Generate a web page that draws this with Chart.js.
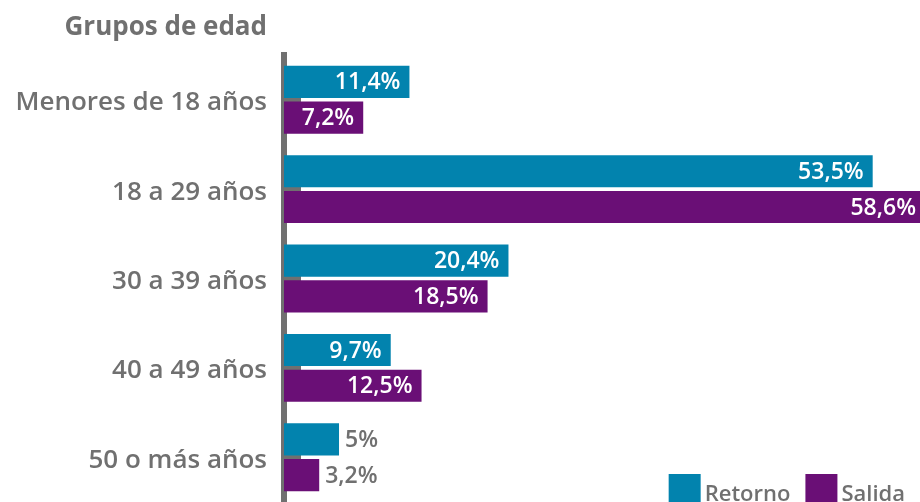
<!DOCTYPE html>
<html>
<head>
<meta charset="utf-8">
<script src="https://cdn.jsdelivr.net/npm/chart.js@4"></script>
<style>
  body { margin: 0; background: #fff; }
  #caja { width: 920px; height: 502px; }
</style>
</head>
<body>
<div id="caja"><canvas id="grafica"></canvas></div>
<script>
const grupos = ["Menores de 18 años", "18 a 29 años", "30 a 39 años", "40 a 49 años", "50 o más años"];
const retorno = [11.4, 53.5, 20.4, 9.7, 5];
const salida = [7.2, 58.6, 18.5, 12.5, 3.2];
const etiquetasRetorno = ["11,4%", "53,5%", "20,4%", "9,7%", "5%"];
const etiquetasSalida = ["7,2%", "58,6%", "18,5%", "12,5%", "3,2%"];
const tituloEje = "Grupos de edad";

const gris = "#707070";
const fuente = "'Open Sans', sans-serif";

// marcas cortas del eje, hacia dentro
const marcas = {
    id: "marcas",
    beforeDatasetsDraw(chart) {
        const ctx = chart.ctx;
        const y = chart.scales.y;
        const x0 = chart.chartArea.left;
        ctx.save();
        ctx.fillStyle = gris;
        grupos.forEach((g, i) => {
            const py = y.getPixelForValue(i);
            ctx.fillRect(x0, py - 2.5, 17, 5);
        });
        ctx.restore();
    }
};

const valores = {
    id: "valores",
    afterDatasetsDraw(chart) {
        const ctx = chart.ctx;
        const derecha = chart.chartArea.right;
        ctx.save();
        ctx.font = "600 23px " + fuente;
        ctx.textBaseline = "middle";
        chart.data.datasets.forEach((ds, d) => {
            const meta = chart.getDatasetMeta(d);
            meta.data.forEach((bar, i) => {
                const v = ds.data[i];
                const txt = ds.etiquetas[i];
                if (v >= 7) {
                    ctx.fillStyle = "#fff";
                    ctx.textAlign = "right";
                    ctx.fillText(txt, Math.min(bar.x - 9, derecha - 4), bar.y + 1);
                } else {
                    ctx.fillStyle = gris;
                    ctx.textAlign = "left";
                    ctx.fillText(txt, bar.x + 6, bar.y + 1);
                }
            });
        });
        ctx.restore();
    }
};

const adornos = {
    id: "adornos",
    afterDraw(chart) {
        const ctx = chart.ctx;
        const y = chart.scales.y;
        ctx.save();
        // titulo del eje
        ctx.font = "bold 26px " + fuente;
        ctx.fillStyle = gris;
        ctx.textAlign = "right";
        ctx.textBaseline = "alphabetic";
        ctx.fillText(tituloEje, y.right - 17, 35);
        // leyenda abajo a la derecha
        ctx.font = "600 22px " + fuente;
        ctx.textAlign = "left";
        let x = chart.width - 15;
        const items = chart.data.datasets.slice().reverse();
        items.forEach(ds => {
            const w = ctx.measureText(ds.label).width;
            x -= w;
            ctx.fillStyle = gris;
            ctx.fillText(ds.label, x, 501);
            x -= 4 + 32;
            ctx.fillStyle = ds.backgroundColor;
            ctx.fillRect(x, 474, 32, 32);
            x -= 15;
        });
        ctx.restore();
    }
};

new Chart(document.getElementById("grafica"), {
    type: "bar",
    data: {
        labels: grupos,
        datasets: [
            {
                label: "Retorno",
                data: retorno,
                etiquetas: etiquetasRetorno,
                backgroundColor: "#0283AE"
            },
            {
                label: "Salida",
                data: salida,
                etiquetas: etiquetasSalida,
                backgroundColor: "#6A0F76"
            }
        ]
    },
    options: {
        indexAxis: "y",
        responsive: true,
        maintainAspectRatio: false,
        animation: false,
        layout: { padding: { top: 55, bottom: 0, left: 0, right: 0 } },
        plugins: {
            legend: { display: false },
            tooltip: { enabled: false }
        },
        scales: {
            x: {
                display: false,
                min: 0,
                max: 57.8
            },
            y: {
                z: 1,
                afterFit: s => {
                    s.width = 284;
                    s.paddingTop = 0;
                    s.paddingBottom = 0;
                },
                grid: { display: false, drawTicks: false },
                border: { display: true, color: gris, width: 6 },
                ticks: {
                    color: gris,
                    padding: 17,
                    labelOffset: 3,
                    font: { family: fuente, size: 26, weight: "600" }
                }
            }
        }
    },
    plugins: [marcas, valores, adornos]
});
</script>
</body>
</html>
